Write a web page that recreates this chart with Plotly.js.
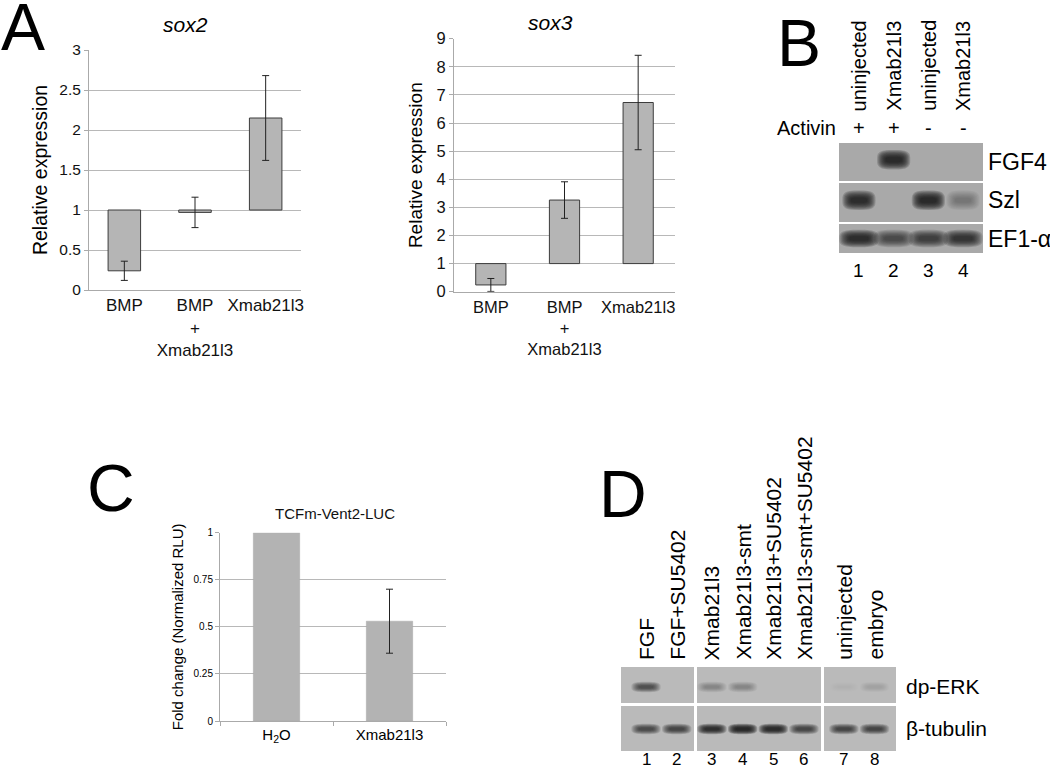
<!DOCTYPE html>
<html>
<head>
<meta charset="utf-8">
<script src="https://cdn.plot.ly/plotly-3.0.1.min.js"></script>
<style>html,body{margin:0;padding:0;background:#fff}#chart{width:1050px;height:770px}</style>
</head>
<body>
<div id="chart"></div>
<script>
// ---------------- DATA ----------------
// Panel A
const categoriesA = ["BMP", "BMP<br>+<br>Xmab21l3", "Xmab21l3"];
const sox2Mean = [0.24, 0.97, 2.15];
const sox2Err = [0.12, 0.19, 0.53];
const sox3Mean = [0.24, 3.26, 6.73];
const sox3Err = [0.23, 0.65, 1.68];
const baselineA = 1;
// Panel B (band intensities 0..1)
const lanesB = [1, 2, 3, 4];
const labelsB = ["uninjected", "Xmab21l3", "uninjected", "Xmab21l3"];
const activinB = ["+", "+", "-", "-"];
const rowsB = ["FGF4", "Szl", "EF1-α"];
const fgf4B = [0, 0.95, 0, 0];
const szlB = [0.9, 0, 0.95, 0.22];
const ef1B = [0.9, 0.5, 0.65, 0.75];
// Panel C
const categoriesC = ["H<sub>2</sub>O", "Xmab21l3"];
const lucMean = [1.0, 0.53];
const lucErr = [0, 0.17];
// Panel D
const lanesD = [1, 2, 3, 4, 5, 6, 7, 8];
const pieceD = [0, 0, 1, 1, 1, 1, 2, 2];
const labelsD = ["FGF", "FGF+SU5402", "Xmab21l3", "Xmab21l3-smt", "Xmab21l3+SU5402", "Xmab21l3-smt+SU5402", "uninjected", "embryo"];
const rowsD = ["dp-ERK", "β-tubulin"];
const dpErkD = [0.5, 0, 0.2, 0.2, 0, 0, 0.02, 0.05];
const tubulinD = [0.55, 0.62, 0.85, 1.0, 0.95, 0.62, 0.58, 0.58];

// ---------------- LAYOUT HELPERS ----------------
const W = 1050, H = 770;
const X = p => p / W;
const Y = p => 1 - p / H;
const FONT = "Liberation Sans, Arial, Helvetica, sans-serif";
const pieceGapD = [0, 0.15, 0.45];
const posD = lanesD.map((l, i) => l + pieceGapD[pieceD[i]]);

const traces = [];
const shapes = [];
const annotations = [];

// ---- Panel A: sox2 ----
traces.push({
  type: "bar", x: categoriesA, y: sox2Mean.map(v => v - baselineA), base: baselineA,
  xaxis: "x", yaxis: "y", width: 0.46,
  marker: {color: "#b5b5b5", line: {color: "#3c3c3c", width: 1}}, hoverinfo: "skip"
});
traces.push({
  type: "scatter", mode: "markers", x: categoriesA, y: sox2Mean, xaxis: "x", yaxis: "y",
  marker: {opacity: 0, size: 1},
  error_y: {type: "data", array: sox2Err, visible: true, color: "#222", thickness: 1, width: 3.5}
});
// ---- Panel A: sox3 ----
traces.push({
  type: "bar", x: categoriesA, y: sox3Mean.map(v => v - baselineA), base: baselineA,
  xaxis: "x2", yaxis: "y2", width: 0.41,
  marker: {color: "#b5b5b5", line: {color: "#3c3c3c", width: 1}}, hoverinfo: "skip"
});
traces.push({
  type: "scatter", mode: "markers", x: categoriesA, y: sox3Mean, xaxis: "x2", yaxis: "y2",
  marker: {opacity: 0, size: 1},
  error_y: {type: "data", array: sox3Err, visible: true, color: "#222", thickness: 1, width: 3.5}
});
// ---- Panel C ----
traces.push({
  type: "bar", x: categoriesC, y: lucMean, xaxis: "x3", yaxis: "y3", width: 0.41,
  marker: {color: "#b3b3b3", line: {color: "#a8a8a8", width: 0.5}}, hoverinfo: "skip"
});
const idxC = lucErr.map((e, i) => i).filter(i => lucErr[i] > 0);
traces.push({
  type: "scatter", mode: "markers", x: idxC.map(i => categoriesC[i]), y: idxC.map(i => lucMean[i]),
  xaxis: "x3", yaxis: "y3", marker: {opacity: 0, size: 1},
  error_y: {type: "data", array: idxC.map(i => lucErr[i]), visible: true, color: "#222", thickness: 1, width: 3.5}
});
// invisible traces to activate blot axes
traces.push({type: "scatter", mode: "markers", x: lanesB, y: [1, 1, 1, 1], xaxis: "x4", yaxis: "y4", marker: {opacity: 0}, hoverinfo: "skip"});
traces.push({type: "scatter", mode: "markers", x: posD, y: posD.map(() => 1), xaxis: "x5", yaxis: "y5", marker: {opacity: 0}, hoverinfo: "skip"});

// ---- Blot helper: soft band built from stacked superellipses ----
function superPath(cx, cy, a, b) {
  const n = 3.2, pts = [];
  for (let j = 0; j < 48; j++) {
    const t = 2 * Math.PI * j / 48, c = Math.cos(t), s = Math.sin(t);
    pts.push([cx + a * Math.sign(c) * Math.pow(Math.abs(c), 2 / n), cy + b * Math.sign(s) * Math.pow(Math.abs(s), 2 / n)]);
  }
  return "M" + pts.map(p => p[0].toFixed(4) + "," + p[1].toFixed(4)).join("L") + "Z";
}
function band(xref, yref, x, y, w, h, k) {
  if (k <= 0) return;
  const N = 9;
  for (let j = 0; j < N; j++) {
    const f = j / (N - 1);
    const sw = 1.45 - 0.75 * f, sh = 1.9 - 1.4 * f;
    shapes.push({type: "path", xref, yref, path: superPath(x, y, w * sw / 2, h * sh / 2),
      fillcolor: "#141414", opacity: Math.min(1, 0.2 * k), line: {width: 0}, layer: "above"});
  }
}

// ---- Panel B blot ----
const rowBoxesB = [[143, 181], [183, 222], [224, 253]];
rowBoxesB.forEach(([t, b]) => shapes.push({type: "rect", xref: "paper", yref: "paper", x0: X(839), x1: X(983), y0: Y(b), y1: Y(t), fillcolor: "#a9a9a9", line: {width: 0}, layer: "below"}));
const seriesB = [fgf4B, szlB, ef1B];
const rowYB = [3, 2, 1];
seriesB.forEach((s, r) => s.forEach((k, i) => {
  const w = r === 2 ? 0.78 : 0.66;
  const h = r === 2 ? 0.24 : 0.27;
  band("x4", "y4", lanesB[i], rowYB[r] + (r === 0 ? 0.06 : 0), w, h, k);
}));
labelsB.forEach((t, i) => annotations.push({xref: "x4", yref: "paper", x: lanesB[i], y: Y(113), text: t, textangle: -90, xanchor: "center", yanchor: "bottom", showarrow: false, font: {family: FONT, size: 20, color: "#000"}}));
activinB.forEach((t, i) => annotations.push({xref: "x4", yref: "paper", x: lanesB[i], y: Y(128), text: t, xanchor: "center", yanchor: "middle", showarrow: false, font: {family: FONT, size: 20, color: "#000"}}));
annotations.push({xref: "paper", yref: "paper", x: X(838), y: Y(128), text: "Activin", xanchor: "right", yanchor: "middle", showarrow: false, font: {family: FONT, size: 20, color: "#000"}});
rowsB.forEach((t, r) => annotations.push({xref: "paper", yref: "y4", x: X(986), y: rowYB[r], text: t, xanchor: "left", yanchor: "middle", showarrow: false, font: {family: FONT, size: 23, color: "#000"}}));
lanesB.forEach((l, i) => annotations.push({xref: "x4", yref: "paper", x: l, y: Y(270), text: String(l), xanchor: "center", yanchor: "middle", showarrow: false, font: {family: FONT, size: 19, color: "#000"}}));

// ---- Panel D blot ----
const pieceBoxesD = [[621, 694], [697, 821], [824, 896]];
const rowBoxesD = [[667, 703], [706, 751]];
pieceBoxesD.forEach(([l, r]) => rowBoxesD.forEach(([t, b]) => shapes.push({type: "rect", xref: "paper", yref: "paper", x0: X(l), x1: X(r), y0: Y(b), y1: Y(t), fillcolor: "#bababa", line: {width: 0}, layer: "below"})));
const seriesD = [dpErkD, tubulinD];
const rowYD = [2, 1];
seriesD.forEach((s, r) => s.forEach((k, i) => band("x5", "y5", posD[i], rowYD[r], 0.66, 0.13, k)));
labelsD.forEach((t, i) => annotations.push({xref: "x5", yref: "paper", x: posD[i], y: Y(662), text: t, textangle: -90, xanchor: "center", yanchor: "bottom", showarrow: false, font: {family: FONT, size: 21, color: "#000"}}));
rowsD.forEach((t, r) => annotations.push({xref: "paper", yref: "y5", x: X(904), y: rowYD[r], text: t, xanchor: "left", yanchor: "middle", showarrow: false, font: {family: FONT, size: 21, color: "#000"}}));
lanesD.forEach((l, i) => annotations.push({xref: "x5", yref: "paper", x: posD[i], y: Y(759), text: String(l), xanchor: "center", yanchor: "middle", borderpad: 0, showarrow: false, font: {family: FONT, size: 17, color: "#000"}}));

// ---- Panel letters & titles ----
[["A", 0, 27], ["B", 776, 43], ["C", 86, 488], ["D", 598, 494]].forEach(([t, x, y]) =>
  annotations.push({xref: "paper", yref: "paper", x: X(x), y: Y(y), text: t, xanchor: "left", yanchor: "middle", borderpad: 0, showarrow: false, font: {family: FONT, size: 66, color: "#000"}}));
annotations.push({xref: "paper", yref: "paper", x: X(185), y: Y(25), text: "<i>sox2</i>", xanchor: "center", yanchor: "middle", showarrow: false, font: {family: FONT, size: 21, color: "#000"}});
annotations.push({xref: "paper", yref: "paper", x: X(550), y: Y(23), text: "<i>sox3</i>", xanchor: "center", yanchor: "middle", showarrow: false, font: {family: FONT, size: 21, color: "#000"}});
annotations.push({xref: "paper", yref: "paper", x: X(335), y: Y(513), text: "TCFm-Vent2-LUC", xanchor: "center", yanchor: "middle", showarrow: false, font: {family: FONT, size: 15, color: "#111"}});

const gridC = "#b8b8b8";
const layout = {
  width: W, height: H, margin: {l: 0, r: 0, t: 0, b: 0},
  paper_bgcolor: "#fff", plot_bgcolor: "rgba(0,0,0,0)", showlegend: false,
  font: {family: FONT, color: "#000"},
  xaxis: {domain: [X(89), X(301)], type: "category", showline: true, linecolor: "#aaa", ticks: "", showgrid: false, tickangle: 0,
    tickfont: {size: 17, color: "#111"}, anchor: "y"},
  yaxis: {domain: [Y(290), Y(50)], range: [0, 3], dtick: 0.5, showline: true, linecolor: "#aaa", ticks: "outside", ticklen: 4, tickcolor: "#aaa",
    gridcolor: gridC, zeroline: false, tickfont: {size: 15.5, color: "#111"}, anchor: "x",
    title: {text: "Relative expression", font: {size: 19.5, color: "#000"}, standoff: 6}},
  xaxis2: {domain: [X(454), X(675)], type: "category", showline: true, linecolor: "#aaa", ticks: "", showgrid: false, tickangle: 0,
    tickfont: {size: 16.5, color: "#111"}, anchor: "y2"},
  yaxis2: {domain: [Y(291.7), Y(38.7)], range: [0, 9], dtick: 1, showline: true, linecolor: "#aaa", ticks: "outside", ticklen: 4, tickcolor: "#aaa",
    gridcolor: gridC, zeroline: false, tickfont: {size: 16.5, color: "#111"}, anchor: "x2",
    title: {text: "Relative expression", font: {size: 19, color: "#000"}, standoff: 8}},
  xaxis3: {domain: [X(220), X(446)], type: "category", showline: true, linecolor: "#aaa", ticks: "outside", tickson: "boundaries", ticklen: 4, tickcolor: "#aaa",
    showgrid: false, tickangle: 0, tickfont: {size: 15, color: "#000"}, anchor: "y3"},
  yaxis3: {domain: [Y(721), Y(532.7)], range: [0, 1], dtick: 0.25, showline: true, linecolor: "#aaa", ticks: "outside", ticklen: 4, tickcolor: "#aaa",
    gridcolor: gridC, zeroline: false, tickfont: {size: 10, color: "#000"}, anchor: "x3",
    title: {text: "Fold change (Normalized RLU)", font: {size: 15, color: "#000"}, standoff: 6}},
  xaxis4: {domain: [X(839), X(983)], range: [0.425, 4.575], visible: false, anchor: "y4"},
  yaxis4: {domain: [Y(253), Y(143)], range: [0.621, 3.497], visible: false, anchor: "x4"},
  xaxis5: {domain: [X(621), X(896)], range: [0.185, 9.151], visible: false, anchor: "y5"},
  yaxis5: {domain: [Y(751), Y(667)], range: [0.476, 2.476], visible: false, anchor: "x5"},
  shapes, annotations
};
Plotly.newPlot("chart", traces, layout, {staticPlot: true, displayModeBar: false});
</script>
</body>
</html>
